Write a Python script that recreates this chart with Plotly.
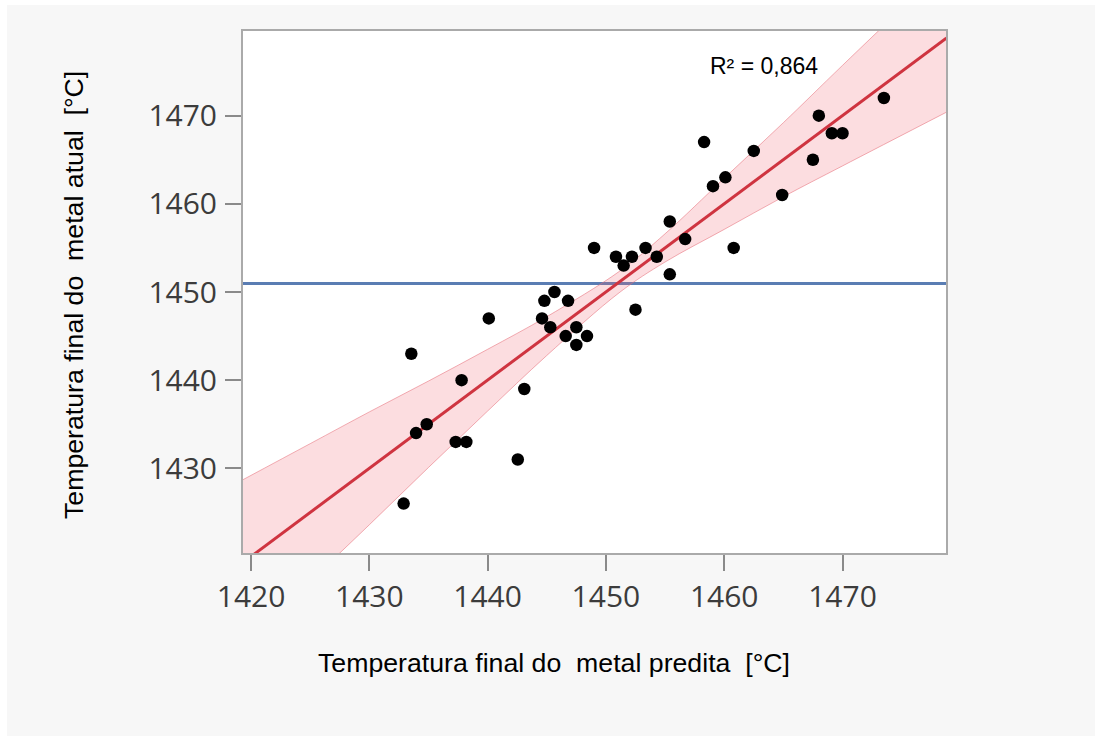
import plotly.graph_objects as go

# ---- data ----
predicted = [1473.5, 1468.0, 1469.1, 1470.0, 1467.5, 1458.3, 1462.5, 1460.1, 1459.05, 1464.9,
             1455.4, 1456.7, 1449.0, 1450.85, 1452.2, 1451.5, 1453.35, 1454.3, 1460.8, 1455.4,
             1452.5, 1445.65, 1444.8, 1446.8, 1440.1, 1444.6, 1445.3, 1447.5, 1446.6, 1448.4,
             1447.5, 1433.55, 1437.8, 1443.1, 1434.85, 1433.95, 1437.3, 1438.2, 1442.55, 1432.9]
actual = [1472, 1470, 1468, 1468, 1465, 1467, 1466, 1463, 1462, 1461,
          1458, 1456, 1455, 1454, 1454, 1453, 1455, 1454, 1455, 1452,
          1448, 1450, 1449, 1449, 1447, 1447, 1446, 1446, 1445, 1445,
          1444, 1443, 1440, 1439, 1435, 1434, 1433, 1433, 1431, 1426]

fit_x = [1419.3, 1478.8]
fit_y = [1419.3, 1478.8]

band_x = [1419.3, 1425, 1430, 1435, 1440, 1445, 1451.2, 1455, 1460, 1465, 1470, 1478.8]
band_lo = [1409.9, 1417.2, 1423.6, 1430.1, 1436.5, 1442.8, 1450.0, 1453.4, 1457.1, 1460.8, 1464.3, 1470.4]
band_hi = [1428.7, 1432.8, 1436.4, 1439.9, 1443.5, 1447.2, 1452.4, 1456.6, 1462.9, 1469.2, 1475.7, 1487.0]

x_ticks = [1420, 1430, 1440, 1450, 1460, 1470]
y_ticks = [1430, 1440, 1450, 1460, 1470]

r2_text = "R² = 0,864"
x_title = "Temperatura final do\u00a0\u00a0metal predita\u00a0\u00a0[°C]"
y_title = "Temperatura final do\u00a0\u00a0metal atual\u00a0\u00a0[°C]"

mean_actual = sum(actual) / len(actual)

X_RANGE = [1419.32, 1478.75]
Y_RANGE = [1420.4, 1479.6]

fig = go.Figure()

# mean line
fig.add_trace(go.Scatter(x=X_RANGE, y=[mean_actual, mean_actual], mode="lines",
                         line=dict(color="#5a7db3", width=3), hoverinfo="skip", showlegend=False))
# confidence band
fig.add_trace(go.Scatter(x=band_x, y=band_lo, mode="lines", line=dict(color="rgba(230,110,120,0.55)", width=1, shape="spline"),
                         hoverinfo="skip", showlegend=False))
fig.add_trace(go.Scatter(x=band_x, y=band_hi, mode="lines", fill="tonexty",
                         fillcolor="rgba(240,100,115,0.22)",
                         line=dict(color="rgba(230,110,120,0.55)", width=1, shape="spline"),
                         hoverinfo="skip", showlegend=False))
# fit line
fig.add_trace(go.Scatter(x=fit_x, y=fit_y, mode="lines", line=dict(color="#cf3440", width=3),
                         hoverinfo="skip", showlegend=False))
# points
fig.add_trace(go.Scatter(x=predicted, y=actual, mode="markers",
                         marker=dict(color="black", size=12.5), showlegend=False))

axis_common = dict(showgrid=False, zeroline=False, showline=True, mirror=True,
                   linecolor="#aaaaaa", linewidth=2, ticks="outside", ticklen=16,
                   tickcolor="#8a8a8a", tickwidth=1.5,
                   tickfont=dict(family="Open Sans", size=30, color="#3c3c3c"))

fig.update_xaxes(range=X_RANGE, tickvals=x_ticks, ticklabelstandoff=0, **axis_common)
fig.update_yaxes(range=Y_RANGE, tickvals=y_ticks, ticklabelstandoff=2, **axis_common)

L, R, T, B = 243, 946, 31, 553
W, H = 1095, 736
pw, ph = R - L, B - T

def px(xp):
    return (xp - L) / pw

def py(yp):
    return (B - yp) / ph

annotations = [
    dict(text=x_title, x=px(554), y=py(663), xref="paper", yref="paper", showarrow=False,
         xanchor="center", yanchor="middle", font=dict(family="Liberation Sans, Arial", size=26.7, color="black")),
    dict(text=y_title, x=px(74), y=py(295), xref="paper", yref="paper", showarrow=False, textangle=-90,
         xanchor="center", yanchor="middle", font=dict(family="Liberation Sans, Arial", size=26.7, color="black")),
    dict(text=r2_text, x=px(764), y=py(66), xref="paper", yref="paper", showarrow=False,
         xanchor="center", yanchor="middle", font=dict(family="Liberation Sans, Arial", size=23, color="black")),
]

shapes = [
    dict(type="rect", xref="paper", yref="paper", x0=px(-5), x1=px(7), y0=py(W), y1=py(-5),
         fillcolor="white", line_width=0, layer="below"),
    dict(type="rect", xref="paper", yref="paper", x0=px(-5), x1=px(W + 5), y0=py(5), y1=py(-5),
         fillcolor="white", line_width=0, layer="below"),
]

fig.update_layout(
    width=W, height=H,
    margin=dict(l=L, r=W - R, t=T, b=H - B),
    paper_bgcolor="#f7f7f7", plot_bgcolor="white",
    annotations=annotations, shapes=shapes,
    showlegend=False,
)

fig.write_html("out.html")
